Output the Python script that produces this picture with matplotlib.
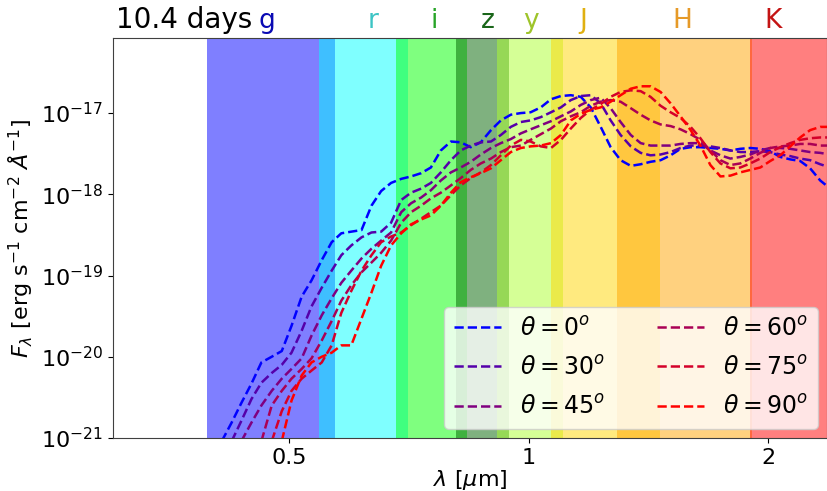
import numpy as np
import matplotlib
matplotlib.use('Agg')
import matplotlib.pyplot as plt
from matplotlib.ticker import NullLocator, FixedLocator, FixedFormatter

# wavelength grid [micron]
lam = [0.411, 0.423, 0.435, 0.448, 0.461, 0.475, 0.489, 0.503, 0.518, 0.533,
       0.549, 0.565, 0.581, 0.598, 0.616, 0.634, 0.652, 0.671, 0.691, 0.711,
       0.732, 0.753, 0.775, 0.798, 0.821, 0.845, 0.870, 0.896, 0.922, 0.949,
       0.977, 1.005, 1.035, 1.066, 1.097, 1.129, 1.162, 1.196, 1.231, 1.267,
       1.304, 1.343, 1.382, 1.422, 1.464, 1.507, 1.551, 1.597, 1.643, 1.691,
       1.741, 1.792, 1.844, 1.898, 1.954, 2.011, 2.070, 2.131, 2.193, 2.257,
       2.324, 2.392]

nan = np.nan
# log10 F_lambda for each viewing angle
logf_0 = [-21.04, -20.81, -20.57, -20.33, -20.07, -20.00, -19.93, -19.62, -19.26, -19.06,
          -18.81, -18.59, -18.48, -18.46, -18.44, -18.14, -17.96, -17.86, -17.81, -17.78,
          -17.74, -17.67, -17.46, -17.35, -17.36, -17.42, -17.36, -17.21, -17.09, -17.02,
          -17.00, -16.99, -16.93, -16.83, -16.79, -16.78, -16.80, -16.93, -17.17, -17.42,
          -17.58, -17.65, -17.63, -17.60, -17.58, -17.52, -17.44, -17.42, -17.42, -17.43,
          -17.44, -17.46, -17.44, -17.43, -17.44, -17.47, -17.54, -17.57, -17.59, -17.68,
          -17.83, -17.93]
logf_30 = [nan,
           -21.04, -20.79, -20.52, -20.32, -20.20, -20.10, -19.95, -19.68, -19.38, -19.15,
           -18.94, -18.75, -18.63, -18.53, -18.47, -18.46, -18.35, -18.07, -17.98, -17.93,
           -17.86, -17.73, -17.58, -17.46, -17.40, -17.36, -17.35, -17.27, -17.17, -17.11,
           -17.09, -17.05, -16.99, -16.93, -16.84, -16.79, -16.78, -16.88, -17.09, -17.27,
           -17.41, -17.49, -17.52, -17.51, -17.48, -17.43, -17.40, -17.40, -17.41, -17.43,
           -17.46, -17.48, -17.48, -17.47, -17.48, -17.51, -17.53, -17.56, -17.58, -17.63,
           -17.67]
logf_45 = [nan, nan,
           -21.04, -20.81, -20.60, -20.42, -20.27, -20.15, -20.02, -19.74, -19.49, -19.28,
           -19.09, -18.94, -18.79, -18.67, -18.57, -18.47, -18.22, -18.11, -18.04, -17.95,
           -17.83, -17.73, -17.67, -17.60, -17.51, -17.43, -17.37, -17.32, -17.25, -17.20,
           -17.15, -17.10, -17.04, -16.98, -16.90, -16.84, -16.81, -16.94, -17.11, -17.27,
           -17.37, -17.40, -17.40, -17.40, -17.38, -17.37, -17.37, -17.46, -17.52, -17.56,
           -17.54, -17.51, -17.46, -17.43, -17.43, -17.44, -17.46, -17.48, -17.49, -17.51]
logf_60 = [nan, nan, nan, nan,
           -21.04, -20.60, -20.42, -20.27, -20.15, -20.02, -19.80, -19.56, -19.31, -19.12,
           -18.96, -18.84, -18.72, -18.57, -18.35, -18.22, -18.14, -18.05, -17.98, -17.89,
           -17.80, -17.70, -17.62, -17.56, -17.48, -17.42, -17.40, -17.33, -17.26, -17.19,
           -17.10, -17.04, -16.99, -16.91, -16.86, -16.84, -16.86, -16.94, -17.02, -17.09,
           -17.14, -17.16, -17.20, -17.26, -17.33, -17.46, -17.58, -17.64, -17.62, -17.56,
           -17.49, -17.43, -17.41, -17.40, -17.38, -17.38, -17.40, -17.40]
logf_75 = [nan, nan, nan, nan, nan,
           -21.04, -20.67, -20.42, -20.27, -20.17, -20.07, -19.86, -19.46, -19.19, -18.94,
           -18.75, -18.59, -18.52, -18.47, -18.38, -18.30, -18.22, -18.14, -18.01, -17.89,
           -17.80, -17.73, -17.64, -17.52, -17.40, -17.33, -17.35, -17.41, -17.43, -17.33,
           -17.19, -17.06, -16.96, -16.89, -16.80, -16.74, -16.72, -16.73, -16.80, -16.91,
           -16.99, -17.06, -17.17, -17.31, -17.48, -17.62, -17.68, -17.67, -17.62, -17.56,
           -17.48, -17.42, -17.37, -17.33, -17.31, -17.30, -17.30]
logf_90 = [nan, nan, nan, nan, nan, nan,
           -21.04, -20.54, -20.23, -20.07, -20.00, -19.95, -19.86, -19.86, -19.53, -19.21,
           -18.88, -18.63, -18.48, -18.37, -18.31, -18.26, -18.14, -17.98, -17.85, -17.79,
           -17.74, -17.68, -17.58, -17.48, -17.43, -17.41, -17.40, -17.37, -17.27, -17.09,
           -17.01, -16.96, -16.93, -16.86, -16.78, -16.70, -16.67, -16.67, -16.74, -16.88,
           -17.04, -17.21, -17.40, -17.64, -17.78, -17.77, -17.73, -17.70, -17.67, -17.59,
           -17.52, -17.41, -17.30, -17.21, -17.17, -17.17]

angles = [0, 30, 45, 60, 75, 90]
spectra = [logf_0, logf_30, logf_45, logf_60, logf_75, logf_90]
line_colors = ['#0000ff', '#5500aa', '#800080', '#aa0055', '#d4002a', '#ff0000']

# photometric bands
band_names = ['g', 'r', 'i', 'z', 'y', 'J', 'H', 'K']
band_lo = [0.394, 0.545, 0.681, 0.810, 0.912, 1.066, 1.290, 1.899]
band_hi = [0.570, 0.705, 0.836, 0.944, 1.103, 1.460, 1.910, 2.600]
band_colors = ['blue', 'cyan', 'lime', 'darkgreen', 'greenyellow', 'gold', 'orange', 'red']
label_pos = [0.468, 0.637, 0.760, 0.888, 1.006, 1.169, 1.560, 2.030]
label_colors = ['#0a0ab4', '#3cc4c4', '#28a428', '#1a661a', '#9ec42a', '#e0b010', '#e69a28', '#c41414']

fig = plt.figure(figsize=(8.27, 4.91), dpi=100)
ax = fig.add_axes([0.1366, 0.108, 0.8634, 0.8146])

for lo, hi, c in zip(band_lo, band_hi, band_colors):
    ax.axvspan(lo, hi, color=c, alpha=0.5, lw=0)

for th, lf, c in zip(angles, spectra, line_colors):
    ax.plot(lam, 10**np.array(lf, dtype=float), '--', color=c, lw=1.8,
            label=r'$\theta = %d^o$' % th)

ax.set_xscale('log')
ax.set_yscale('log')
ax.set_xlim(0.3, 2.37)
ax.set_ylim(1e-21, 8.4e-17)

ax.xaxis.set_major_locator(FixedLocator([0.5, 1, 2]))
ax.xaxis.set_major_formatter(FixedFormatter(['0.5', '1', '2']))
ax.xaxis.set_minor_locator(NullLocator())
ax.yaxis.set_minor_locator(NullLocator())
ax.tick_params(labelsize=16)
for sp in ax.spines.values():
    sp.set_color('#404040')

ax.set_xlabel(r'$\lambda$ [$\mu$m]', fontsize=16, labelpad=0)
ax.set_ylabel(r'$F_\lambda$ [erg s$^{-1}$ cm$^{-2}$ $\AA^{-1}$]', fontsize=16)

trans = ax.get_xaxis_transform()
for name, x, c in zip(band_names, label_pos, label_colors):
    ax.text(x, 1.01, name, transform=trans, ha='center', va='bottom',
            fontsize=19, color=c)
ax.text(0.004, 1.01, '10.4 days', transform=ax.transAxes, ha='left', va='bottom',
        fontsize=20)

ax.legend(loc='lower right', ncol=2, fontsize=17, columnspacing=2.2,
          labelspacing=0.65, handlelength=2.0, borderaxespad=0.4)

plt.savefig('out.png', dpi=100)
